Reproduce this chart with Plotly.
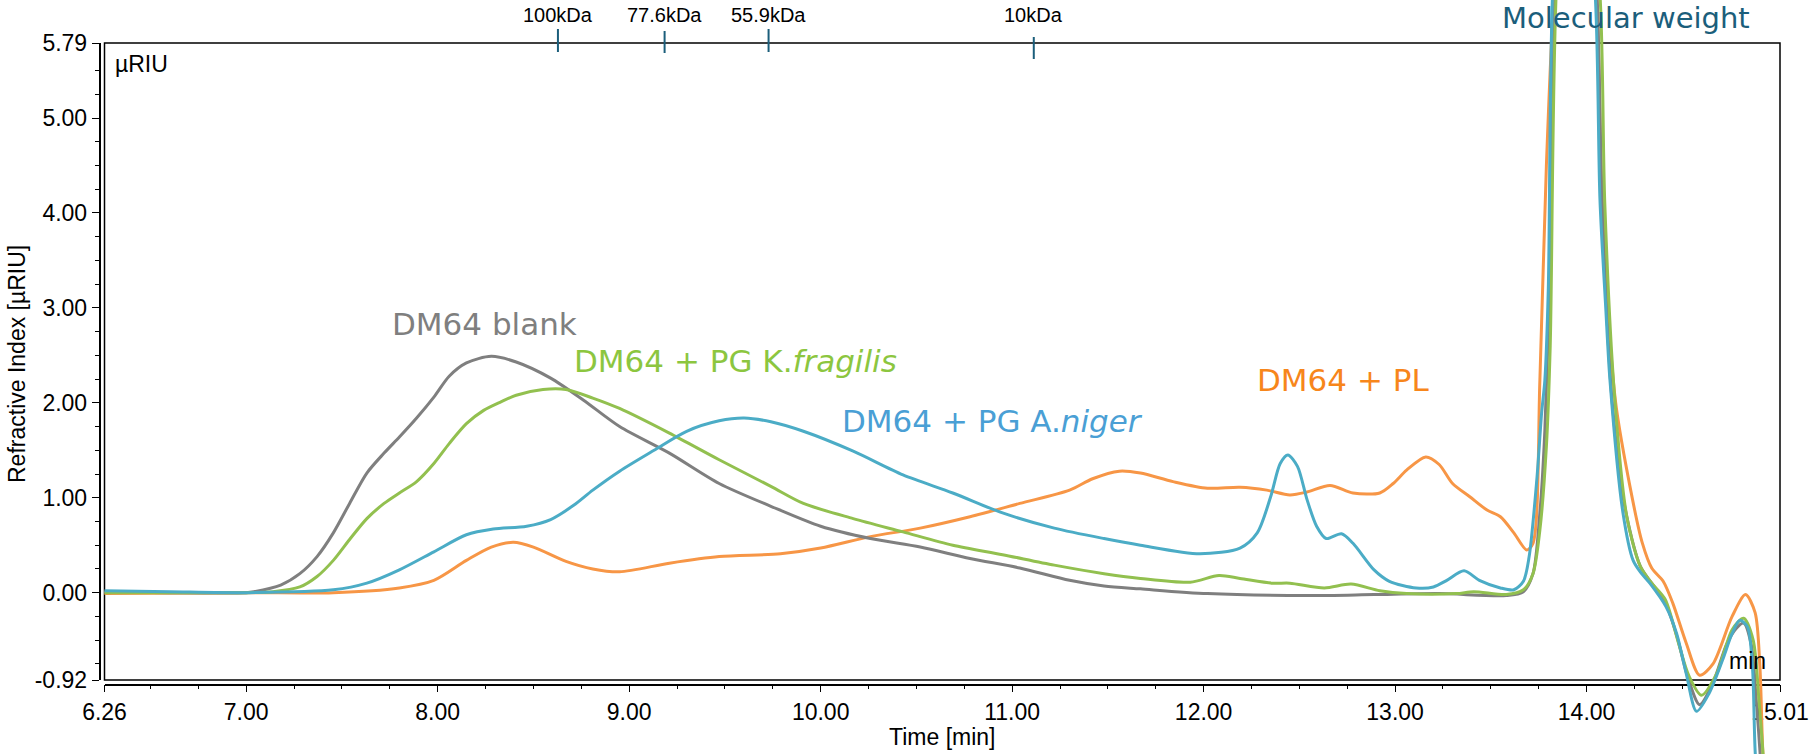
import plotly.graph_objects as go

# ---------------- data ----------------
t_blank = [6.26, 6.6, 7.0, 7.04, 7.18, 7.28, 7.37, 7.455, 7.54, 7.63, 7.72, 7.80, 7.89, 7.98, 8.06, 8.15,
           8.28, 8.41, 8.59, 8.76, 8.95, 9.21, 9.47, 9.74, 10.0, 10.26, 10.52, 10.78, 11.04, 11.30, 11.48,
           11.67, 12.02, 12.54, 12.89, 13.23, 13.58, 13.67, 13.72, 13.756, 13.782, 13.81, 13.84, 13.94,
           14.05, 14.08, 14.13, 14.20, 14.28, 14.34, 14.41, 14.47, 14.53, 14.59, 14.66, 14.73, 14.78,
           14.82, 14.86, 14.886, 14.905, 14.93]
ri_blank = [0.01, 0.0, 0.0, 0.01, 0.08, 0.20, 0.38, 0.63, 0.94, 1.26, 1.47, 1.64, 1.84, 2.06, 2.28, 2.42,
            2.49, 2.43, 2.26, 2.03, 1.75, 1.47, 1.15, 0.91, 0.70, 0.57, 0.48, 0.36, 0.26, 0.13, 0.07,
            0.04, -0.01, -0.03, -0.02, -0.01, -0.03, 0.01, 0.20, 0.84, 1.71, 3.5, 6.5, 9.0,
            6.5, 4.2, 2.1, 0.9, 0.28, 0.10, -0.10, -0.45, -0.90, -1.18, -0.95, -0.55, -0.38,
            -0.32, -0.55, -1.13, -1.66, -2.5]

t_fragilis = [6.26, 7.0, 7.14, 7.28, 7.37, 7.455, 7.54, 7.63, 7.72, 7.80, 7.89, 7.98, 8.06, 8.15, 8.24, 8.33,
              8.41, 8.55, 8.67, 8.81, 8.95, 9.21, 9.47, 9.74, 9.91, 10.17, 10.43, 10.69, 10.95, 11.22, 11.48,
              11.67, 11.93, 12.08, 12.19, 12.36, 12.45, 12.63, 12.77, 12.92, 13.06, 13.32, 13.41, 13.58,
              13.67, 13.72, 13.756, 13.79, 13.81, 13.845, 13.95, 14.07, 14.095, 14.145, 14.21, 14.28, 14.34,
              14.41, 14.48, 14.535, 14.60, 14.68, 14.76, 14.82, 14.87, 14.90, 14.92, 14.95]
ri_fragilis = [0.0, 0.0, 0.01, 0.06, 0.17, 0.34, 0.56, 0.78, 0.94, 1.05, 1.17, 1.36, 1.57, 1.78, 1.92, 2.01,
               2.08, 2.14, 2.14, 2.05, 1.94, 1.68, 1.40, 1.12, 0.94, 0.78, 0.64, 0.50, 0.40, 0.29, 0.20,
               0.15, 0.11, 0.18, 0.15, 0.10, 0.10, 0.05, 0.09, 0.02, -0.01, -0.01, 0.01, -0.02,
               0.03, 0.20, 0.66, 1.54, 2.6, 6.5, 9.0, 6.3, 4.1, 2.1, 0.8, 0.28, 0.10,
               -0.07, -0.53, -0.88, -1.08, -0.85, -0.39, -0.27, -0.50, -1.13, -1.66, -2.6]

t_niger = [6.26, 6.6, 7.02, 7.455, 7.63, 7.80, 7.98, 8.15, 8.29, 8.465, 8.59, 8.71, 8.81, 8.95, 9.13, 9.30,
           9.47, 9.60, 9.74, 9.91, 10.17, 10.43, 10.69, 10.95, 11.22, 11.48, 11.67, 11.98, 12.19, 12.28,
           12.35, 12.40, 12.44, 12.49, 12.54, 12.59, 12.64, 12.72, 12.78, 12.89, 12.97, 13.11, 13.20,
           13.27, 13.36, 13.44, 13.55, 13.62, 13.67, 13.70, 13.74, 13.765, 13.782, 13.80, 13.826, 13.93,
           14.045, 14.07, 14.10, 14.122, 14.19, 14.243, 14.28, 14.33, 14.415, 14.47, 14.52, 14.574,
           14.64, 14.71, 14.76, 14.80, 14.84, 14.866, 14.88, 14.91]
ri_niger = [0.02, 0.01, 0.0, 0.03, 0.10, 0.24, 0.43, 0.61, 0.67, 0.70, 0.77, 0.92, 1.08, 1.28, 1.50, 1.70,
            1.81, 1.84, 1.80, 1.70, 1.49, 1.24, 1.05, 0.84, 0.68, 0.57, 0.50, 0.41, 0.47, 0.63,
            1.01, 1.36, 1.45, 1.33, 0.98, 0.70, 0.57, 0.62, 0.52, 0.24, 0.12, 0.05, 0.06,
            0.13, 0.23, 0.13, 0.05, 0.03, 0.12, 0.38, 1.19, 1.89, 2.24, 3.2, 6.5, 9.0,
            6.3, 4.13, 3.0, 2.24, 0.84, 0.34, 0.22, 0.10, -0.15, -0.43, -0.85, -1.25,
            -1.06, -0.71, -0.43, -0.29, -0.36, -0.78, -1.66, -2.6]

t_pl = [6.26, 7.0, 7.455, 7.80, 7.98, 8.15, 8.28, 8.395, 8.50, 8.67, 8.81, 8.95, 9.21, 9.47, 9.79, 10.0,
        10.26, 10.52, 10.78, 11.04, 11.30, 11.42, 11.56, 11.67, 11.84, 12.02, 12.19, 12.33, 12.45, 12.54,
        12.66, 12.78, 12.92, 12.99, 13.06, 13.16, 13.23, 13.30, 13.39, 13.48, 13.55, 13.62, 13.687, 13.72,
        13.756, 13.79, 13.835, 13.94, 14.05, 14.08, 14.15, 14.24, 14.29, 14.34, 14.40, 14.45, 14.52,
        14.59, 14.66, 14.76, 14.83, 14.88, 14.905, 14.92, 14.95]
ri_pl = [-0.01, 0.0, 0.0, 0.05, 0.13, 0.34, 0.48, 0.53, 0.48, 0.33, 0.25, 0.22, 0.31, 0.38, 0.41, 0.47,
         0.59, 0.68, 0.80, 0.94, 1.08, 1.20, 1.28, 1.26, 1.17, 1.10, 1.11, 1.08, 1.03, 1.06,
         1.13, 1.05, 1.05, 1.15, 1.29, 1.43, 1.35, 1.15, 1.01, 0.87, 0.80, 0.63, 0.45, 0.52,
         2.24, 4.5, 6.5, 9.0, 6.4, 4.2, 2.03, 0.98, 0.53, 0.26, 0.12, -0.11, -0.53,
         -0.87, -0.75, -0.25, -0.02, -0.21, -0.78, -1.66, -2.6]

x_tickvals = [6.26, 7, 8, 9, 10, 11, 12, 13, 14, 15.01]
x_ticktext = ["6.26", "7.00", "8.00", "9.00", "10.00", "11.00", "12.00", "13.00", "14.00", "15.01"]
y_tickvals = [-0.92, 0, 1, 2, 3, 4, 5, 5.79]
y_ticktext = ["-0.92", "0.00", "1.00", "2.00", "3.00", "4.00", "5.00", "5.79"]
x_minor = [6.5, 6.75, 7.25, 7.5, 7.75, 8.25, 8.5, 8.75, 9.25, 9.5, 9.75, 10.25, 10.5, 10.75,
           11.25, 11.5, 11.75, 12.25, 12.5, 12.75, 13.25, 13.5, 13.75, 14.25, 14.5, 14.75]
y_minor = [-0.75, -0.5, -0.25, 0.25, 0.5, 0.75, 1.25, 1.5, 1.75, 2.25, 2.5, 2.75, 3.25, 3.5, 3.75,
           4.25, 4.5, 4.75, 5.25, 5.5]

mw_times = [8.628, 9.185, 9.728, 11.113]
mw_labels = ["100kDa", "77.6kDa", "55.9kDa", "10kDa"]

# ---------------- layout geometry (page pixels) ----------------
W, H = 1812, 754
L, R, T, B = 104.5, 1780.0, 43.0, 680.0   # frame in pixels
X0, X1, Y0, Y1 = 6.26, 15.01, -0.92, 5.79
ppx = (R - L) / (X1 - X0)
ppy = (B - T) / (Y1 - Y0)


def px(x):
    return x / W


def py(y):
    return 1 - y / H


TICK_FONT = dict(family="Liberation Sans, Arial", size=23, color="black")
LBL_FONT = "DejaVu Sans, Verdana"

fig = go.Figure()

# empty trace so the framed (visible) subplot exists
fig.add_trace(go.Scatter(x=[], y=[], xaxis="x", yaxis="y", showlegend=False, hoverinfo="skip"))

series = [
    ("DM64 + PL", t_pl, ri_pl, "#F79646"),
    ("DM64 blank", t_blank, ri_blank, "#7F7F7F"),
    ("DM64 + PG K.fragilis", t_fragilis, ri_fragilis, "#92C04F"),
    ("DM64 + PG A.niger", t_niger, ri_niger, "#4BACC6"),
]
for name, tt, vv, col in series:
    fig.add_trace(go.Scatter(x=tt, y=vv, mode="lines", name=name, xaxis="x2", yaxis="y2",
                             line=dict(color=col, width=3, shape="spline", smoothing=0.8),
                             showlegend=False))

fig.update_layout(
    width=W, height=H, autosize=False, showlegend=False,
    margin=dict(l=0, r=0, t=0, b=0, pad=0, autoexpand=False),
    paper_bgcolor="white", plot_bgcolor="rgba(0,0,0,0)",
    font=dict(family="Liberation Sans, Arial", color="black"),
    xaxis=dict(domain=[px(L), px(R)], range=[X0, X1], anchor="free", position=py(684.5),
               automargin=False,
               showline=True, linecolor="black", linewidth=1.5, ticks="outside", ticklen=7,
               tickwidth=1.2, tickcolor="black", tickvals=x_tickvals, ticktext=x_ticktext,
               tickfont=TICK_FONT, showgrid=False, zeroline=False, fixedrange=True,
               minor=dict(tickvals=x_minor, ticks="outside", ticklen=4, tickwidth=1.2,
                          tickcolor="black", showgrid=False)),
    yaxis=dict(domain=[py(B), py(T)], range=[Y0, Y1], anchor="free", position=px(99.5),
               automargin=False,
               showline=True, linecolor="black", linewidth=1.5, ticks="outside", ticklen=7,
               tickwidth=1.2, tickcolor="black", tickvals=y_tickvals, ticktext=y_ticktext,
               tickfont=TICK_FONT, showgrid=False, zeroline=False, fixedrange=True,
               minor=dict(tickvals=y_minor, ticks="outside", ticklen=4, tickwidth=1.2,
                          tickcolor="black", showgrid=False)),
    xaxis2=dict(domain=[0, 1], range=[X0 - L / ppx, X0 + (W - L) / ppx], anchor="y2",
                visible=False, fixedrange=True, automargin=False),
    yaxis2=dict(domain=[0, 1], range=[Y0 - (H - B) / ppy, Y1 + T / ppy], anchor="x2",
                visible=False, fixedrange=True, automargin=False),
)

shapes = [dict(type="rect", xref="paper", yref="paper", x0=px(L), x1=px(R), y0=py(B), y1=py(T),
               line=dict(color="black", width=1.5), layer="below")]
tick_extent = [(29, 52), (31, 53), (29, 52), (37, 59)]
for tm, (ya, yb) in zip(mw_times, tick_extent):
    shapes.append(dict(type="line", xref="x", yref="paper", x0=tm, x1=tm, y0=py(yb), y1=py(ya),
                       line=dict(color="#1B5E7B", width=2), layer="above"))
fig.update_layout(shapes=shapes)

ann = []
for tm, lab in zip(mw_times, mw_labels):
    ann.append(dict(x=tm, y=py(15), xref="x", yref="paper", text=lab, showarrow=False,
                    xanchor="center", yanchor="middle",
                    font=dict(family="Liberation Sans, Arial", size=20, color="black")))
ann += [
    dict(x=px(1626), y=py(18), xref="paper", yref="paper", text="Molecular weight", showarrow=False,
         xanchor="center", yanchor="middle", font=dict(family=LBL_FONT, size=29, color="#1B5E7B")),
    dict(x=px(113), y=py(64), xref="paper", yref="paper", text="µRIU", showarrow=False,
         xanchor="left", yanchor="middle", font=TICK_FONT),
    dict(x=px(1768), y=py(661), xref="paper", yref="paper", text="min", showarrow=False,
         xanchor="right", yanchor="middle", font=TICK_FONT),
    dict(x=px((L + R) / 2), y=py(737), xref="paper", yref="paper", text="Time [min]", showarrow=False,
         xanchor="center", yanchor="middle", font=TICK_FONT),
    dict(x=px(17), y=py(364), xref="paper", yref="paper", text="Refractive Index [µRIU]",
         showarrow=False, textangle=-90, xanchor="center", yanchor="middle", font=TICK_FONT),
    dict(x=px(390), y=py(324), xref="paper", yref="paper", text="DM64 blank", showarrow=False,
         xanchor="left", yanchor="middle", font=dict(family=LBL_FONT, size=31, color="#7F7F7F")),
    dict(x=px(572), y=py(361), xref="paper", yref="paper", text="DM64 + PG K.<i>fragilis</i>",
         showarrow=False, xanchor="left", yanchor="middle",
         font=dict(family=LBL_FONT, size=31, color="#8CC63F")),
    dict(x=px(840), y=py(421), xref="paper", yref="paper", text="DM64 + PG A.<i>niger</i>",
         showarrow=False, xanchor="left", yanchor="middle",
         font=dict(family=LBL_FONT, size=31, color="#4A9FD5")),
    dict(x=px(1255), y=py(380), xref="paper", yref="paper", text="DM64 + PL", showarrow=False,
         xanchor="left", yanchor="middle", font=dict(family=LBL_FONT, size=31, color="#F7861B")),
]
fig.update_layout(annotations=ann)

# remove the page's default body margin so the figure sits at the window's top-left corner
fig.write_html("out.html", config={"displayModeBar": False, "staticPlot": False},
               post_script="document.body.style.margin='0px';document.body.style.overflow='hidden';")
